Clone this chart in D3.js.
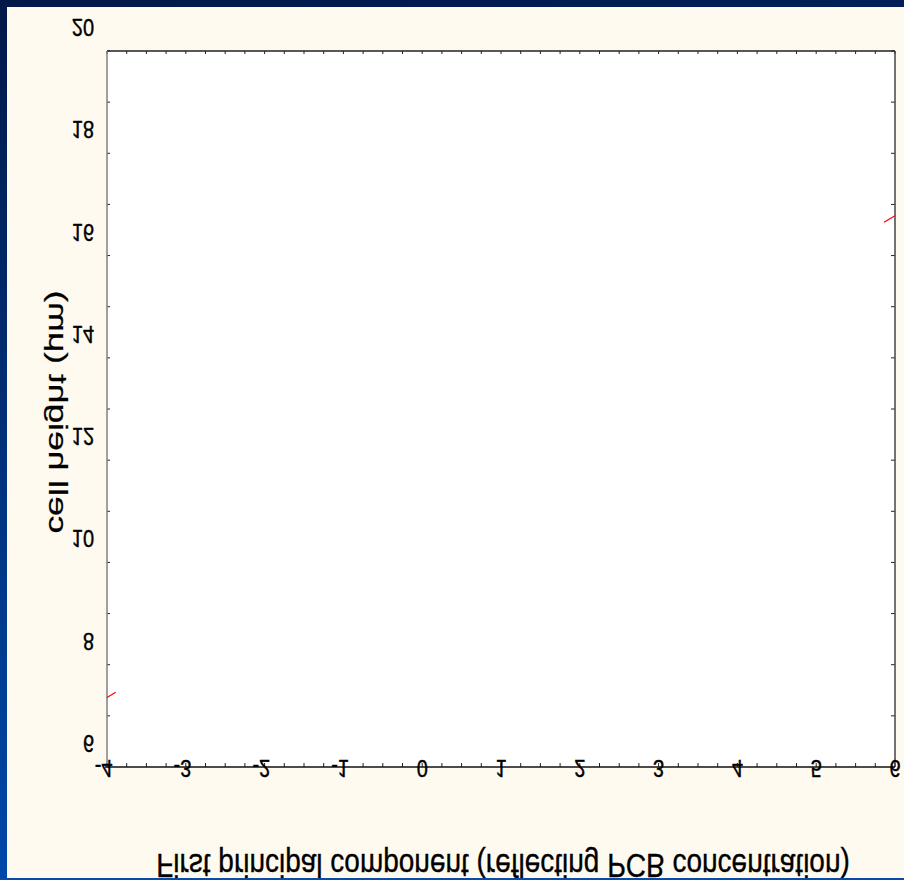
<!DOCTYPE html>
<html><head><meta charset="utf-8">
<script src="https://cdn.jsdelivr.net/npm/d3@7"></script>
<style>html,body{margin:0;padding:0;background:#fff;}svg{display:block;}</style>
</head><body>
<script>
// ---- data ----
const xDomain = [-4, 6];
const yDomain = [6, 20];
const xTickLabels = [-4, -3, -2, -1, 0, 1, 2, 3, 4, 5, 6];
const yTickLabels = [6, 8, 10, 12, 14, 16, 18, 20];
const xTitle = "First principal component (reflecting PCB concentration)";
const yTitle = "cell height (\u03bcm)";
// visible pieces of the red fitted line
const fitLeft  = [{x: -4, y: 7.36}, {x: -3.89, y: 7.46}];
const fitRight = [{x: 5.86, y: 16.65}, {x: 6, y: 16.78}];

// ---- layout ----
const W = 904, H = 880;
const m = {left: 107, right: 895, top: 51, bottom: 767};
const svg = d3.select("body").append("svg").attr("width", W).attr("height", H);
const defs = svg.append("defs");
const g = defs.append("linearGradient").attr("id", "bg").attr("x1", 0).attr("y1", 0).attr("x2", 0.15).attr("y2", 1);
g.append("stop").attr("offset", "0%").attr("stop-color", "#021848");
g.append("stop").attr("offset", "100%").attr("stop-color", "#0049AC");
svg.append("rect").attr("width", W).attr("height", H).attr("fill", "url(#bg)");
svg.append("rect").attr("x", 7).attr("y", 7).attr("width", W - 7).attr("height", 878 - 7).attr("fill", "#FFFAF0");
svg.append("rect").attr("x", m.left).attr("y", m.top).attr("width", m.right - m.left).attr("height", m.bottom - m.top).attr("fill", "#FFFFFF");

const x = d3.scaleLinear().domain(xDomain).range([m.left, m.right]);
const y = d3.scaleLinear().domain(yDomain).range([m.bottom, m.top]);

const font = "Liberation Sans, Arial, sans-serif";

// ticks
const xMinor = d3.range(xDomain[0], xDomain[1] + 0.001, 0.25);
const yMinor = d3.range(yDomain[0], yDomain[1] + 0.001, 1);

svg.append("g").selectAll("line").data(xMinor).join("line")
  .attr("x1", d => x(d)).attr("x2", d => x(d)).attr("y1", m.bottom).attr("y2", m.bottom - 4)
  .attr("stroke", "#222").attr("stroke-width", 1);
svg.append("g").selectAll("line").data(xMinor).join("line")
  .attr("x1", d => x(d)).attr("x2", d => x(d)).attr("y1", m.top).attr("y2", m.top + 3)
  .attr("stroke", "#222").attr("stroke-width", 1);
svg.append("g").selectAll("line").data(yMinor).join("line")
  .attr("x1", m.left).attr("x2", m.left + 3).attr("y1", d => y(d)).attr("y2", d => y(d))
  .attr("stroke", "#222").attr("stroke-width", 1);
svg.append("g").selectAll("line").data(yMinor).join("line")
  .attr("x1", m.right).attr("x2", m.right - 4).attr("y1", d => y(d)).attr("y2", d => y(d))
  .attr("stroke", "#222").attr("stroke-width", 1);

// frame
svg.append("line").attr("x1", m.left).attr("x2", m.right).attr("y1", m.top).attr("y2", m.top).attr("stroke", "#222").attr("stroke-width", 1.5);
svg.append("line").attr("x1", m.right).attr("x2", m.right).attr("y1", m.top).attr("y2", m.bottom).attr("stroke", "#444").attr("stroke-width", 1.5);
svg.append("line").attr("x1", m.left).attr("x2", m.left).attr("y1", m.top).attr("y2", m.bottom).attr("stroke", "#808080").attr("stroke-width", 1.5);
svg.append("line").attr("x1", m.left - 2).attr("x2", m.right).attr("y1", m.bottom).attr("y2", m.bottom).attr("stroke", "#111").attr("stroke-width", 1.5);

// fitted line pieces
const line = d3.line().x(d => x(d.x)).y(d => y(d.y));
[fitLeft, fitRight].forEach(seg => {
  svg.append("path").datum(seg).attr("d", line).attr("fill", "none").attr("stroke", "#FF0000").attr("stroke-width", 1.2);
});

// x tick labels (flipped vertically); last digit centred on the tick
svg.append("g").selectAll("text").data(xTickLabels).join("text")
  .attr("transform", d => `translate(${x(d) + 5.6},760) scale(1,-1.2)`)
  .attr("text-anchor", "end").attr("font-family", font).attr("font-size", 20).attr("fill", "#000")
  .attr("stroke", "#000").attr("stroke-width", 0.35)
  .text(d => d < 0 ? "-" + Math.abs(d) : String(d));

// y tick labels (flipped vertically)
svg.append("g").selectAll("text").data(yTickLabels).join("text")
  .attr("transform", d => `translate(94,${y(d) - 32}) scale(1,-1.15)`)
  .attr("text-anchor", "end").attr("font-family", font).attr("font-size", 20).attr("fill", "#000")
  .attr("stroke", "#000").attr("stroke-width", 0.35)
  .text(d => String(d));

// x title
svg.append("text").attr("transform", `translate(${(m.left + m.right) / 2 + 2},854) scale(1,-1.2)`)
  .attr("text-anchor", "middle").attr("font-family", font).attr("font-size", 28).attr("fill", "#000")
  .attr("stroke", "#000").attr("stroke-width", 0.3)
  .text(xTitle);

// y title
svg.append("text").attr("transform", `translate(49,412) rotate(-90) scale(1,-0.75)`)
  .attr("text-anchor", "middle").attr("font-family", font).attr("font-size", 35.5).attr("fill", "#000")
  .attr("stroke", "#000").attr("stroke-width", 0.3)
  .text(yTitle);

// bottom blue stripe
svg.append("rect").attr("x", 0).attr("y", 878).attr("width", W).attr("height", 2).attr("fill", "#0A4AA8");
</script>
</body></html>
